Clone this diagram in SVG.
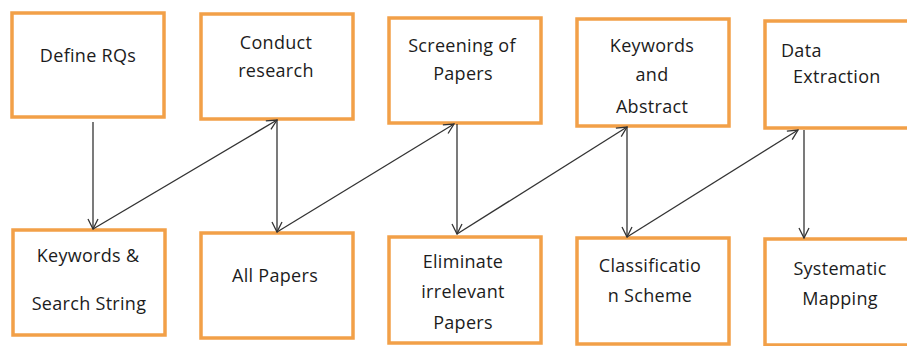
<svg xmlns="http://www.w3.org/2000/svg" width="907" height="346" viewBox="0 0 907 346">
<style>
.box{fill:#fff;stroke:#F2A048;stroke-width:3.5}
.t{font-family:"Open Sans","Liberation Sans",sans-serif;font-size:18px;font-weight:500;letter-spacing:0.3px;fill:#1c1c1c;text-anchor:middle}
.l{text-anchor:start}
.c{stroke:#333;stroke-width:1.3;fill:none;marker-end:url(#a)}
</style>
<defs>
<marker id="a" viewBox="0 0 12 12" refX="11" refY="6" markerWidth="12" markerHeight="12" markerUnits="userSpaceOnUse" orient="auto">
<path d="M1,1 L11,6 L1,11" fill="none" stroke="#333" stroke-width="1.3"/>
</marker>
</defs>
<rect width="907" height="346" fill="#fff"/>
<g id="define-rqs"><rect class="box" x="12" y="13" width="152" height="104"/><text class="t" x="88" y="62">Define RQs</text></g>
<g id="conduct-research"><rect class="box" x="201" y="14" width="152" height="105"/><text class="t" x="276" y="49">Conduct</text><text class="t" x="276" y="77">research</text></g>
<g id="screening"><rect class="box" x="389" y="18" width="152" height="105"/><text class="t" x="462" y="52">Screening of</text><text class="t" x="463" y="80">Papers</text></g>
<g id="keywords-abstract"><rect class="box" x="577" y="19" width="152" height="107"/><text class="t" x="652" y="52">Keywords</text><text class="t" x="652" y="81">and</text><text class="t" x="652" y="113">Abstract</text></g>
<g id="data-extraction"><rect class="box" x="765" y="21" width="152" height="107"/><text class="t l" x="781" y="57">Data</text><text class="t l" x="793" y="83">Extraction</text></g>
<g id="keywords-search"><rect class="box" x="13" y="230" width="152" height="105"/><text class="t" x="88" y="262">Keywords &amp;</text><text class="t" x="89" y="310">Search String</text></g>
<g id="all-papers"><rect class="box" x="201" y="233" width="152" height="105"/><text class="t" x="275" y="282">All Papers</text></g>
<g id="eliminate"><rect class="box" x="389" y="237" width="152" height="106"/><text class="t" x="463" y="268">Eliminate</text><text class="t" x="463" y="298">irrelevant</text><text class="t" x="463" y="329">Papers</text></g>
<g id="classification"><rect class="box" x="577" y="238" width="152" height="106"/><text class="t" x="650" y="272">Classificatio</text><text class="t" x="650" y="302">n Scheme</text></g>
<g id="systematic-mapping"><rect class="box" x="765" y="239" width="152" height="106"/><text class="t" x="840" y="275">Systematic</text><text class="t" x="840" y="305">Mapping</text></g>
<g id="connectors">
<path class="c" d="M93,122 L93,229"/>
<path class="c" d="M93,229 L277,120"/>
<path class="c" d="M277,120 L277,232"/>
<path class="c" d="M277,232 L454,124"/>
<path class="c" d="M457,124 L457,234"/>
<path class="c" d="M457,234 L627,127"/>
<path class="c" d="M627,127 L627,237"/>
<path class="c" d="M627,237 L798,130"/>
<path class="c" d="M804,130 L804,238"/>
</g>
</svg>
